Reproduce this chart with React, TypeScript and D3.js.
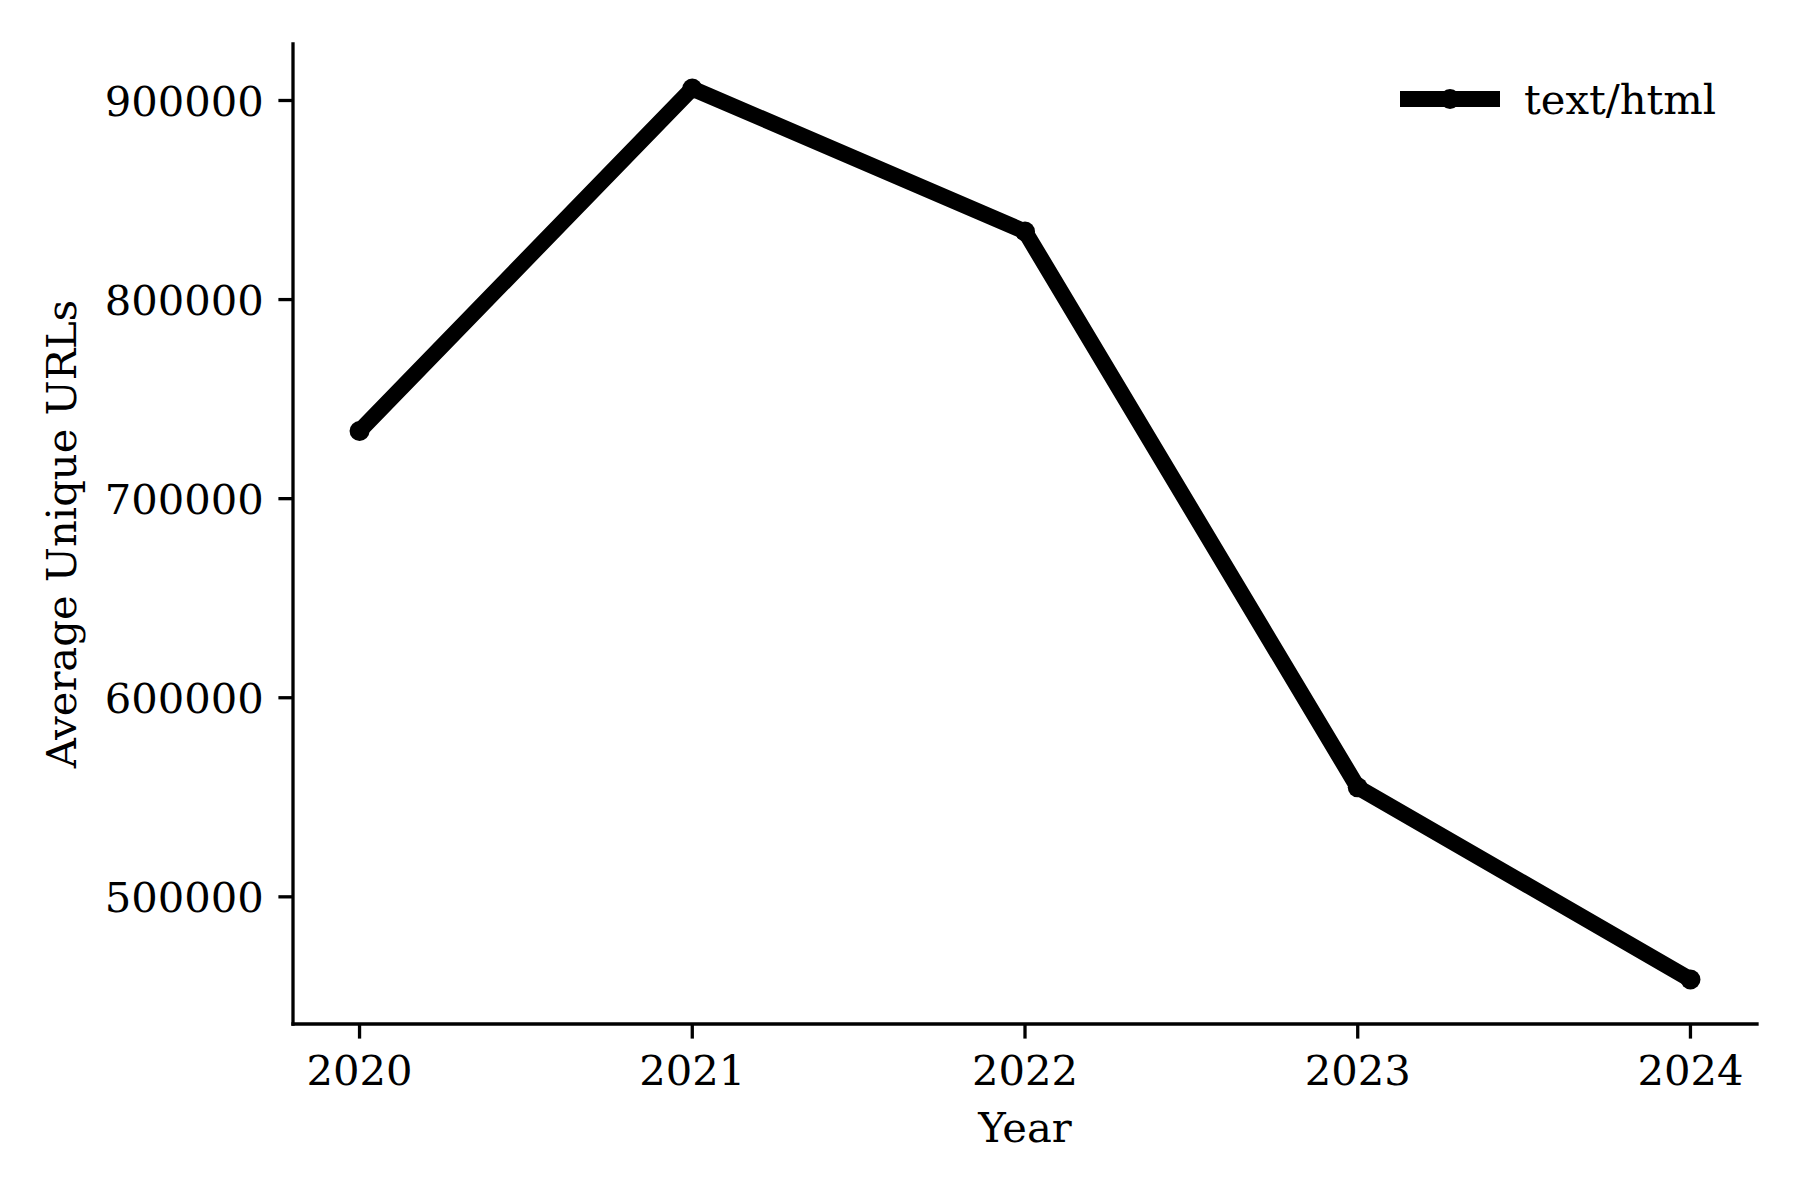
import React from "react";
import * as d3 from "d3";

const years = [2020, 2021, 2022, 2023, 2024];
const avgUniqueUrls = [734000, 906000, 834200, 555000, 458500];
const yTicks = [500000, 600000, 700000, 800000, 900000];
const seriesName = "text/html";

const W = 1800;
const H = 1200;
const FONT = "'DejaVu Serif', serif";
const FS = 41.7;

export default function App() {
  const left = 293, right = 1757, top = 44, bottom = 1024;
  const xMin = d3.min(years)!, xMax = d3.max(years)!;
  const xPad = (xMax - xMin) * 0.05;
  const x = d3.scaleLinear().domain([xMin - xPad, xMax + xPad]).range([left, right]);
  const yMin = d3.min(avgUniqueUrls)!, yMax = d3.max(avgUniqueUrls)!;
  const yPad = (yMax - yMin) * 0.05;
  const y = d3.scaleLinear().domain([yMin - yPad, yMax + yPad]).range([bottom, top]);
  const line = d3
    .line<number>()
    .x((_, i) => x(years[i]))
    .y((d) => y(d));
  const tick = 14.6;
  return (
    <svg width={W} height={H} style={{ display: "block", margin: "-8px" }} xmlns="http://www.w3.org/2000/svg">
      <rect x={0} y={0} width={W} height={H} fill="#fff" />
      {/* spines */}
      <line x1={left} y1={top} x2={left} y2={bottom} stroke="#000" strokeWidth={3.3} strokeLinecap="square" />
      <line x1={left} y1={bottom} x2={right} y2={bottom} stroke="#000" strokeWidth={3.3} strokeLinecap="square" />
      {/* y ticks */}
      {yTicks.map((t) => (
        <g key={t}>
          <line x1={left - tick} x2={left} y1={y(t)} y2={y(t)} stroke="#000" strokeWidth={3.3} />
          <text x={left - tick - 14.6} y={y(t)} dy="0.36em" textAnchor="end" fontFamily={FONT} fontSize={FS} fill="#000">
            {t}
          </text>
        </g>
      ))}
      {/* x ticks */}
      {years.map((t) => (
        <g key={t}>
          <line x1={x(t)} x2={x(t)} y1={bottom} y2={bottom + tick} stroke="#000" strokeWidth={3.3} />
          <text x={x(t)} y={1085} textAnchor="middle" fontFamily={FONT} fontSize={FS} fill="#000">
            {t}
          </text>
        </g>
      ))}
      <text x={(left + right) / 2} y={1142} textAnchor="middle" fontFamily={FONT} fontSize={FS} fill="#000">
        Year
      </text>
      <text
        transform={`translate(76, ${(top + bottom) / 2}) rotate(-90)`}
        textAnchor="middle"
        fontFamily={FONT}
        fontSize={FS}
        fill="#000"
      >
        Average Unique URLs
      </text>
      {/* series */}
      <path d={line(avgUniqueUrls) || ""} fill="none" stroke="#000" strokeWidth={16} strokeLinejoin="round" strokeLinecap="butt" />
      {avgUniqueUrls.map((v, i) => (
        <circle key={i} cx={x(years[i])} cy={y(v)} r={10} fill="#000" />
      ))}
      {/* legend */}
      <line x1={1400} x2={1500} y1={99} y2={99} stroke="#000" strokeWidth={16} />
      <circle cx={1450} cy={99} r={10} fill="#000" />
      <text x={1524} y={114} fontFamily={FONT} fontSize={FS} fill="#000">
        {seriesName}
      </text>
    </svg>
  );
}
